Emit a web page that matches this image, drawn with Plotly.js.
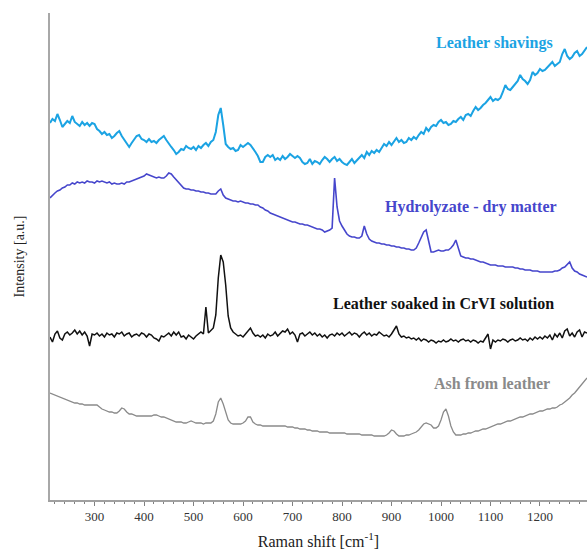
<!DOCTYPE html>
<html>
<head>
<meta charset="utf-8">
<script src="https://cdn.plot.ly/plotly-3.0.1.min.js"></script>
<style>html,body{margin:0;padding:0;background:#fff;}#chart{width:587px;height:551px;}</style>
</head>
<body>
<div id="chart"></div>
<script>
// Raman shift [cm-1]
const ramanShift = [210,215,220,225,230,235,240,245,250,255,260,265,270,275,280,285,290,295,300,305,310,315,320,325,330,335,340,345,350,355,360,365,370,375,380,385,390,395,400,405,410,415,420,425,430,435,440,445,450,455,460,465,470,475,480,485,490,495,500,505,510,515,520,525,530,535,540,545,550,555,560,565,570,575,580,585,590,595,600,605,610,615,620,625,630,635,640,645,650,655,660,665,670,675,680,685,690,695,700,705,710,715,720,725,730,735,740,745,750,755,760,765,770,775,780,785,790,795,800,805,810,815,820,825,830,835,840,845,850,855,860,865,870,875,880,885,890,895,900,905,910,915,920,925,930,935,940,945,950,955,960,965,970,975,980,985,990,995,1000,1005,1010,1015,1020,1025,1030,1035,1040,1045,1050,1055,1060,1065,1070,1075,1080,1085,1090,1095,1100,1105,1110,1115,1120,1125,1130,1135,1140,1145,1150,1155,1160,1165,1170,1175,1180,1185,1190,1195,1200,1205,1210,1215,1220,1225,1230,1235,1240,1245,1250,1255,1260,1265,1270,1275,1280,1285,1290,1295];

// Leather shavings
const leatherShavings = [377,381,379,386,380,373,376,379,377,384,378,376,374,378,375,377,374,377,376,371,369,366,368,365,366,362,364,367,369,364,360,356,353,357,361,364,365,361,360,358,361,358,359,357,360,362,364,360,356,353,350,346,348,351,350,354,352,351,353,350,354,352,355,357,354,358,360,368,385,392,375,356,353,351,352,349,350,355,353,355,357,355,352,348,344,338,338,343,345,343,345,340,342,340,344,341,343,346,344,342,344,342,338,336,337,341,336,339,338,336,340,343,341,338,341,343,339,341,338,336,335,338,341,337,340,343,345,342,348,345,349,347,350,348,352,356,354,358,355,359,362,358,360,357,358,362,360,363,361,365,368,366,372,369,373,375,374,378,380,377,378,375,376,379,378,381,383,380,385,386,384,389,393,390,392,395,397,400,403,399,401,400,402,408,415,411,410,413,416,419,425,421,419,416,420,428,425,427,431,429,430,433,435,438,434,436,438,446,451,444,441,443,447,449,444,446,450,453];

// Hydrolyzate - dry matter
const hydrolyzate = [302,305,307,309,310,312,313,315,315,317,316,318,317,318,317,319,318,318,317,319,318,319,318,317,318,316,317,316,316,317,316,318,318,319,320,321,322,323,324,326,325,324,323,322,323,322,322,324,327,326,323,320,317,314,312,311,311,310,310,309,309,308,308,307,307,306,306,306,309,311,305,302,301,300,299,299,298,299,298,297,297,296,296,295,295,293,292,290,289,287,286,285,284,283,282,281,280,279,278,278,277,276,276,275,275,274,273,272,271,271,270,268,269,270,272,322,293,279,274,270,266,264,263,263,262,262,264,274,266,261,259,258,257,257,256,256,255,255,254,254,253,253,252,252,251,251,250,250,252,257,263,268,270,258,248,248,249,250,249,249,250,250,252,255,260,252,244,243,242,242,241,241,240,239,238,238,237,236,235,235,235,234,234,234,233,233,233,233,232,232,231,231,230,230,230,229,229,229,228,228,228,228,228,228,229,229,230,232,233,236,238,232,229,228,226,225,224,223];

// Leather soaked in CrVI solution
const crviLeather = [163,158,166,169,162,160,166,168,165,167,170,166,169,165,168,164,154,166,165,167,164,166,163,167,165,166,163,167,166,168,164,166,167,163,165,166,164,167,166,163,166,165,162,161,159,164,163,165,167,164,168,165,168,163,164,161,165,163,161,164,166,168,166,193,167,170,172,185,222,245,238,215,184,172,168,166,164,165,163,166,169,172,167,164,165,163,165,162,166,164,165,168,164,167,169,168,171,166,168,165,158,166,167,164,166,168,165,167,164,166,163,165,162,165,166,164,167,165,167,164,166,168,165,167,166,163,166,168,165,167,164,166,165,168,166,164,165,163,166,170,174,166,163,164,162,163,161,162,160,162,159,161,160,158,160,159,157,159,158,160,158,159,161,159,160,158,160,161,159,160,158,160,159,157,159,158,162,166,151,160,158,160,159,161,160,158,160,161,159,160,162,160,161,159,162,160,163,161,163,161,164,162,165,160,166,163,167,162,169,171,164,167,163,168,170,163,168,167];

// Ash from leather
const ashLeather = [107,106,105,104,103,102,101,100,99,98,97,97,96,96,95,95,95,95,95,95,93,91,90,89,88,88,87,87,89,92,91,88,86,86,85,84,84,84,84,84,84,84,85,85,84,83,83,82,81,80,79,78,78,78,77,77,78,79,78,77,77,77,76,77,77,77,79,86,98,102,96,87,80,77,76,76,76,76,77,79,83,83,78,76,75,75,74,74,74,74,74,74,74,74,74,74,73,73,73,72,72,71,71,71,70,70,69,69,69,68,68,68,68,67,67,67,67,67,67,67,66,66,66,66,66,66,65,65,65,65,65,64,64,64,64,64,65,67,70,69,66,64,64,64,65,65,66,67,68,70,73,76,77,76,75,72,72,74,80,88,91,84,74,68,65,65,65,66,66,67,67,68,69,69,70,71,71,72,73,74,75,76,76,77,78,79,79,80,81,82,83,83,84,85,86,86,87,88,89,89,90,91,91,92,92,93,95,96,98,100,102,105,107,110,113,116,119,122];

const seriesNames = ["Leather shavings", "Hydrolyzate - dry matter", "Leather soaked in CrVI solution", "Ash from leather"];
const xTickVals = [300,400,500,600,700,800,900,1000,1100,1200];

const serif = "Liberation Serif, Times New Roman, serif";
const colors = ["#1ba3e3", "#4646cc", "#111111", "#8a8a8a"];
const widths = [2, 1.6, 1.5, 1.3];
const ys = [leatherShavings, hydrolyzate, crviLeather, ashLeather];

const traces = ys.map((y, i) => ({
  x: ramanShift, y: y, type: "scatter", mode: "lines", name: seriesNames[i],
  line: {color: colors[i], width: widths[i]}, hoverinfo: "x+y"
}));

const layout = {
  width: 587, height: 551,
  margin: {l: 50, r: 0, t: 13, b: 51},
  paper_bgcolor: "#fff", plot_bgcolor: "#fff",
  showlegend: false,
  font: {family: serif, color: "#222"},
  xaxis: {
    range: [210, 1295], showgrid: false, zeroline: false,
    showline: true, linecolor: "#a0a0a0", linewidth: 1.5,
    ticks: "outside", ticklen: 4, tickcolor: "#808080", tickwidth: 1,
    tickvals: xTickVals, ticktext: xTickVals.map(String),
    tickfont: {family: serif, size: 13, color: "#333"},
    minor: {dtick: 20, tick0: 0, ticks: "outside", ticklen: 2.5, tickcolor: "#808080", showgrid: false},
    title: {text: "Raman shift [cm<sup>-1</sup>]", font: {family: serif, size: 16, color: "#222"}, standoff: 12}
  },
  yaxis: {
    range: [0, 487], showgrid: false, zeroline: false,
    showline: true, linecolor: "#a8a8a8", linewidth: 2,
    ticks: "", showticklabels: false,
    title: {text: "Intensity [a.u.]", font: {family: serif, size: 14, color: "#222"}, standoff: 20}
  },
  annotations: [
    {text: seriesNames[0], x: 494, y: 43, showarrow: false,
     font: {family: serif, size: 16, color: colors[0], weight: "bold"}},
    {text: seriesNames[1], x: 471, y: 207, showarrow: false,
     font: {family: serif, size: 16, color: colors[1], weight: "bold"}},
    {text: seriesNames[2], x: 443, y: 303, showarrow: false,
     font: {family: serif, size: 16, color: "#111", weight: "bold"}},
    {text: seriesNames[3], x: 492, y: 383, showarrow: false,
     font: {family: serif, size: 16, color: colors[3], weight: "bold"}}
  ]
};
// annotation positions given in page pixels -> convert to paper coords
const pw = 587 - 50, ph = 551 - 13 - 51;
layout.annotations.forEach(a => {
  a.xref = "paper"; a.yref = "paper";
  a.x = (a.x - 50) / pw; a.y = 1 - (a.y - 13) / ph;
  a.xanchor = "center"; a.yanchor = "middle";
});

Plotly.newPlot("chart", traces, layout, {displayModeBar: false, staticPlot: true});
</script>
</body>
</html>
